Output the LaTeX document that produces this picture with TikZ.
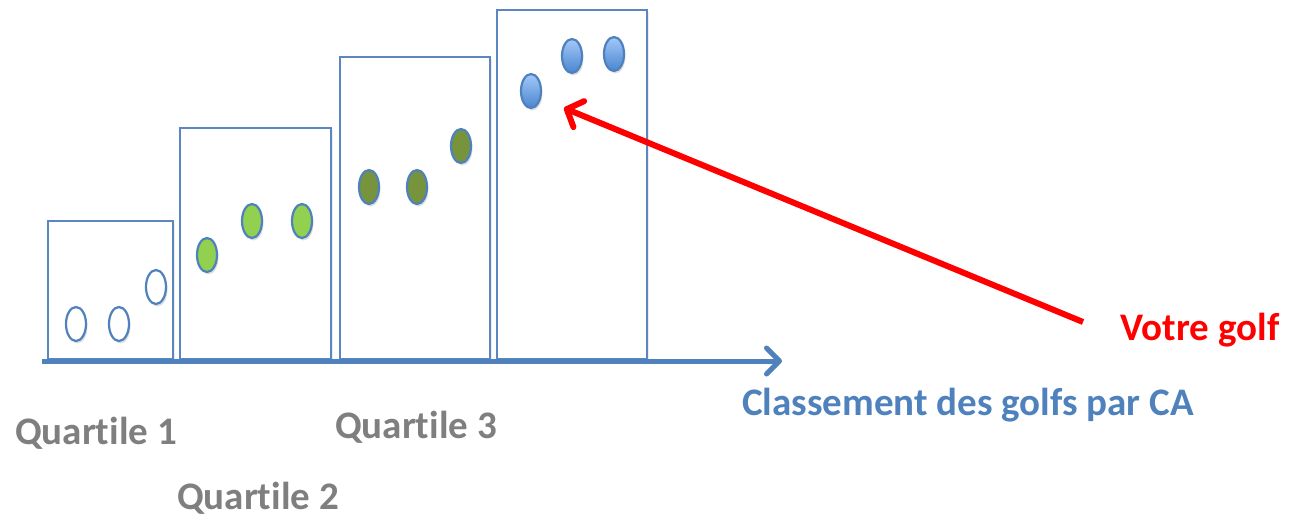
\documentclass[tikz,border=0pt]{standalone}
\usepackage{fontspec}
\setmainfont{Carlito}[Ligatures={NoCommon}]
\usetikzlibrary{arrows.meta,shapes.geometric,shadows}
\definecolor{axisblue}{HTML}{4F81BD}
\definecolor{boxblue}{HTML}{5B86C2}
\definecolor{dotgreen}{HTML}{92D050}
\definecolor{dotolive}{HTML}{77933C}
\definecolor{dottop}{HTML}{A3C8F8}
\definecolor{dotbot}{HTML}{4A86D0}
\definecolor{txtgray}{HTML}{7F7F7F}
\tikzset{
  qbox/.style={draw=boxblue, line width=2.2pt, fill=white,
    drop shadow={shadow xshift=1.5pt, shadow yshift=-1.5pt, opacity=0.15}},
  dot/.style={ellipse, draw=axisblue, line width=2.2pt, minimum width=20pt,
    minimum height=34pt, inner sep=0pt,
    drop shadow={shadow xshift=1.5pt, shadow yshift=-2.5pt, opacity=0.25}},
  lbl/.style={font=\fontsize{39}{44}\selectfont\bfseries, inner sep=0pt, anchor=base}
}
\begin{document}
\begin{tikzpicture}[x=1pt,y=-1pt]
\useasboundingbox (0,0) rectangle (1303,517);
% boxes
\draw[qbox] (48,221) rectangle (173,359);
\draw[qbox] (180,128) rectangle (331,359);
\draw[qbox] (340,57) rectangle (490,359);
\draw[qbox] (497,10) rectangle (647,359);
% axis
\coordinate (axstart) at (42,361);
\coordinate (axend) at (782,361);
\draw[axisblue, line width=5pt, -{Straight Barb[length=13pt,width=26pt,line width=5pt,round]}] (axstart) -- (axend);
% dots quartile 1
\node[dot, fill=white] (d11) at (76,324) {};
\node[dot, fill=white] (d12) at (119,324) {};
\node[dot, fill=white] (d13) at (156,287) {};
% quartile 2
\node[dot, fill=dotgreen] (d21) at (207,255) {};
\node[dot, fill=dotgreen] (d22) at (252,221) {};
\node[dot, fill=dotgreen] (d23) at (302,221) {};
% quartile 3
\node[dot, fill=dotolive] (d31) at (369,187) {};
\node[dot, fill=dotolive] (d32) at (417,187) {};
\node[dot, fill=dotolive] (d33) at (461,146) {};
% quartile 4
\node[dot, top color=dottop, bottom color=dotbot] (d41) at (531,91) {};
\node[dot, top color=dottop, bottom color=dotbot] (d42) at (572,56) {};
\node[dot, top color=dottop, bottom color=dotbot] (d43) at (614,54) {};
% red arrow
\coordinate (rstart) at (1083,322);
\coordinate (rtip) at (564,108);
\draw[red, line width=6pt, -{Straight Barb[length=13pt,width=28pt,line width=6pt,round]}] (rstart) -- (rtip);
% labels
\node[lbl, text=red] (votre) at (1200,340) {Votre golf};
\node[lbl, text=axisblue] (classement) at (968,415) {Classement des golfs par CA};
\node[lbl, text=txtgray] (q1) at (96,444) {Quartile 1};
\node[lbl, text=txtgray] (q2) at (258,509) {Quartile 2};
\node[lbl, text=txtgray] (q3) at (416,438) {Quartile 3};
\end{tikzpicture}
\end{document}
